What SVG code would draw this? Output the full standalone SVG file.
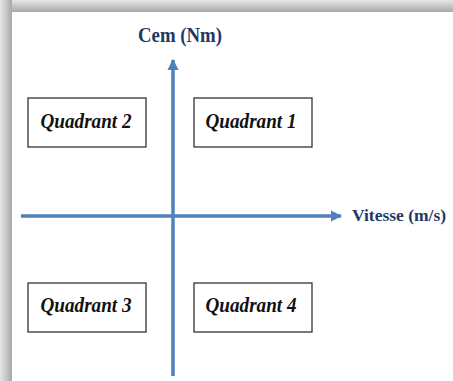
<svg xmlns="http://www.w3.org/2000/svg" width="453" height="381" viewBox="0 0 453 381">
<defs>
<linearGradient id="gt" x1="0" y1="0" x2="0" y2="1"><stop offset="0" stop-color="#e6e6e6"/><stop offset="1" stop-color="#a9a9a9"/></linearGradient>
<linearGradient id="gl" x1="0" y1="0" x2="1" y2="0"><stop offset="0" stop-color="#e6e6e6"/><stop offset="1" stop-color="#a9a9a9"/></linearGradient>
<marker id="arr" viewBox="0 0 10 10" refX="9" refY="5" markerWidth="3.2" markerHeight="3.2" orient="auto" markerUnits="strokeWidth"><path d="M0,0 L10,5 L0,10 z" fill="#4f81bd"/></marker>
<style>
.ax{stroke:#4f81bd;stroke-width:3.5;fill:none}
.box{fill:#fff;stroke:#333;stroke-width:1.3}
.q{font-family:"Liberation Serif",serif;font-style:italic;font-weight:bold;font-size:20px;fill:#111;text-anchor:middle}
.lab{font-family:"Liberation Serif",serif;font-weight:bold;font-size:21px;fill:#1f3864}
</style>
</defs>
<rect width="453" height="381" fill="#fff"/>
<rect x="0" y="0" width="453" height="12" fill="url(#gt)"/>
<rect x="0" y="0" width="12" height="381" fill="url(#gl)"/>
<g id="connectors">
<line class="ax" x1="173" y1="376" x2="173" y2="60" marker-end="url(#arr)"/>
<line class="ax" x1="21" y1="216" x2="341" y2="216" marker-end="url(#arr)"/>
</g>
<g id="label-cem"><text class="lab" x="138" y="42" textLength="84" lengthAdjust="spacingAndGlyphs">Cem (Nm)</text></g>
<g id="label-vitesse"><text class="lab" x="352" y="221" style="font-size:17.5px">Vitesse (m/s)</text></g>
<g id="q2"><rect class="box" x="28" y="98" width="118" height="49"/><text class="q" x="86" y="128" textLength="91" lengthAdjust="spacingAndGlyphs">Quadrant 2</text></g>
<g id="q1"><rect class="box" x="194" y="98" width="118" height="49"/><text class="q" x="251" y="128" textLength="91" lengthAdjust="spacingAndGlyphs">Quadrant 1</text></g>
<g id="q3"><rect class="box" x="28" y="283" width="118" height="49"/><text class="q" x="86" y="312" textLength="91" lengthAdjust="spacingAndGlyphs">Quadrant 3</text></g>
<g id="q4"><rect class="box" x="194" y="283" width="118" height="49"/><text class="q" x="251" y="312" textLength="91" lengthAdjust="spacingAndGlyphs">Quadrant 4</text></g>
</svg>
